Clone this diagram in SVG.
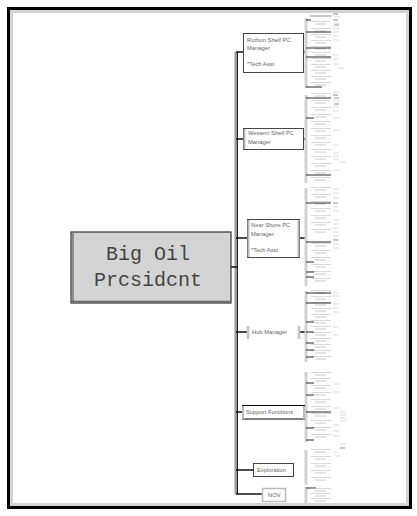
<svg xmlns="http://www.w3.org/2000/svg" xmlns:xlink="http://www.w3.org/1999/xlink" width="417" height="516" viewBox="0 0 417 516">
<style>
.lbl{font-family:"Liberation Sans",Arial,sans-serif;font-size:5.8px;fill:#666}
.pres{font-family:"Liberation Mono","Courier New",monospace;font-size:20px;fill:#444;text-anchor:middle}
.con{stroke:#000;stroke-width:1.4;fill:none}
.tk{stroke:#111;stroke-width:0.9}
.bar{stroke:#d2d2d2;stroke-width:3}
.mk{stroke:#ccc;stroke-width:0.7}
.mkd{stroke:#777;stroke-width:0.8}
.box{fill:#fff;stroke:#333;stroke-width:0.9}
</style>
<defs>
<g id="e"><line x1="0" y1="-2.5" x2="20" y2="-2.5" stroke="#b0b0b0" stroke-width="0.5"/><line x1="4" y1="0" x2="15" y2="0" stroke="#d2d2d2" stroke-width="1.2"/></g>
<line id="m" x1="0" y1="0" x2="6" y2="0" class="mk"/>
<line id="md" x1="0" y1="0" x2="5" y2="0" class="mkd"/>
</defs>
<rect x="0" y="0" width="417" height="516" fill="#fff"/>
<!-- frame -->
<rect x="8.5" y="8.5" width="402" height="499" fill="#fff" stroke="#000" stroke-width="3"/>
<rect x="11.5" y="11.5" width="396" height="493" fill="none" stroke="#d4d4d4" stroke-width="3"/>
<!-- connectors -->
<g id="connectors">
<line x1="236" y1="52" x2="236" y2="494" stroke="#9a9a9a" stroke-width="3"/>
<line x1="237.5" y1="52" x2="237.5" y2="494" stroke="#222" stroke-width="1"/>
<line class="con" x1="231" y1="267" x2="237" y2="267"/>
<line class="con" x1="236" y1="52" x2="244" y2="52"/>
<line class="con" x1="236" y1="139" x2="244" y2="139"/>
<line class="con" x1="236" y1="238" x2="248" y2="238"/>
<line class="con" x1="236" y1="332" x2="248" y2="332"/>
<line class="con" x1="236" y1="412" x2="243" y2="412"/>
<line class="con" x1="236" y1="470" x2="254" y2="470"/>
<line class="con" x1="236" y1="494" x2="263" y2="494"/>
<line class="con" x1="303" y1="52" x2="306" y2="52"/>
<line class="con" x1="303" y1="139" x2="306" y2="139"/>
<line class="con" x1="299" y1="238" x2="306" y2="238"/>
<line class="con" x1="300" y1="332" x2="306" y2="332"/>
<line class="con" x1="305" y1="412" x2="306" y2="412"/>
<line class="bar" x1="306" y1="18" x2="306" y2="88"/>
<line class="bar" x1="306" y1="95" x2="306" y2="183"/>
<line class="bar" x1="306" y1="188" x2="306" y2="286"/>
<line class="bar" x1="306" y1="291" x2="306" y2="362"/>
<line class="bar" x1="306" y1="372" x2="306" y2="442"/>
<line class="bar" x1="306" y1="450" x2="306" y2="485"/>
<line class="bar" x1="306" y1="487" x2="306" y2="503"/>
</g>
<!-- president -->
<g id="president">
<rect x="71" y="232" width="160" height="71" fill="#d4d4d4" stroke="#333" stroke-width="1.2"/>
<line x1="73" y1="233" x2="73" y2="302" stroke="#777" stroke-width="1.5"/>
<line x1="72" y1="301.5" x2="230" y2="301.5" stroke="#666" stroke-width="1.5"/>
<text class="pres" x="148" y="260">Big Oil</text>
<text class="pres" x="148" y="286">Prcsidcnt</text>
</g>
<g id="n-rorbon">
<rect class="box" x="243.5" y="33.5" width="60" height="39"/>
<text class="lbl" x="247" y="42">Rorbon Shelf PC</text>
<text class="lbl" x="247" y="50">Manager</text>
<text class="lbl" x="247" y="66">*Tech Asst</text>
</g>
<g id="n-western">
<rect class="box" x="243.5" y="128.5" width="60" height="21"/>
<line x1="244.5" y1="129" x2="244.5" y2="149" stroke="#bbb" stroke-width="2"/>
<text class="lbl" x="248" y="135">Western Shelf PC</text>
<text class="lbl" x="248" y="144">Manager</text>
</g>
<g id="n-near">
<rect class="box" x="247.5" y="219.5" width="52" height="38"/>
<line x1="248.5" y1="220" x2="248.5" y2="257" stroke="#bbb" stroke-width="2"/>
<line x1="298.5" y1="220" x2="298.5" y2="257" stroke="#bbb" stroke-width="2"/>
<text class="lbl" x="251" y="227">Near Shore PC</text>
<text class="lbl" x="251" y="236">Manager</text>
<text class="lbl" x="251" y="252">*Tech Asst</text>
</g>
<g id="n-hub">
<line x1="248" y1="326" x2="248" y2="339" stroke="#c4c4c4" stroke-width="2.5"/>
<line x1="299" y1="326" x2="299" y2="339" stroke="#c4c4c4" stroke-width="2.5"/>
<text class="lbl" x="252" y="334">Hub Manager</text>
</g>
<g id="n-support">
<line x1="242" y1="405.5" x2="305" y2="405.5" stroke="#000" stroke-width="1"/>
<line x1="242" y1="419" x2="305" y2="419" stroke="#000" stroke-width="1"/>
<line x1="243" y1="406" x2="243" y2="419" stroke="#bbb" stroke-width="2"/>
<line x1="304" y1="406" x2="304" y2="419" stroke="#bbb" stroke-width="2"/>
<text class="lbl" x="246" y="414">Support Functions</text>
</g>
<g id="n-exploration">
<rect class="box" x="253.5" y="463.5" width="40" height="13"/>
<text class="lbl" x="257" y="472">Exploration</text>
</g>
<g id="n-nov">
<rect x="262.5" y="488.5" width="23" height="13" fill="#fff" stroke="#bbb" stroke-width="1.5"/>
<text class="lbl" x="268" y="497">NOV</text>
</g>
<!-- sub-entries -->
<g id="sub-rorbon">
<line x1="310" y1="16" x2="332" y2="16" stroke="#666" stroke-width="0.7"/>
<use href="#e" x="311" y="24"/><use href="#e" x="311" y="31"/><use href="#e" x="311" y="37"/><use href="#e" x="311" y="43"/><use href="#e" x="311" y="49"/><use href="#e" x="311" y="55"/><use href="#e" x="311" y="61"/><use href="#e" x="311" y="67"/><use href="#e" x="311" y="73"/><use href="#e" x="311" y="79"/><use href="#e" x="311" y="85"/>
<line class="tk" x1="306" y1="20" x2="311" y2="20"/><line class="tk" x1="306" y1="32" x2="331" y2="32"/><line class="tk" x1="306" y1="48" x2="331" y2="48"/><line class="tk" x1="306" y1="57" x2="331" y2="57"/><line class="tk" x1="306" y1="87" x2="322" y2="87"/>
<use href="#m" x="333" y="11"/><use href="#md" x="333" y="14"/><use href="#m" x="334" y="17"/><use href="#md" x="333" y="20"/><use href="#m" x="333" y="23"/><use href="#md" x="334" y="25"/><use href="#m" x="333" y="28"/><use href="#m" x="333" y="32"/><use href="#m" x="333" y="36"/><use href="#m" x="333" y="40"/><use href="#m" x="333" y="55"/><use href="#m" x="333" y="59"/><use href="#m" x="333" y="64"/><use href="#m" x="338" y="68"/>
</g>
<g id="sub-western">
<use href="#e" x="311" y="96"/><use href="#e" x="311" y="103"/><use href="#e" x="311" y="110"/><use href="#e" x="311" y="117"/><use href="#e" x="311" y="124"/><use href="#e" x="311" y="131"/><use href="#e" x="311" y="138"/><use href="#e" x="311" y="145"/><use href="#e" x="311" y="152"/><use href="#e" x="311" y="159"/><use href="#e" x="311" y="166"/><use href="#e" x="311" y="173"/><use href="#e" x="311" y="180"/>
<line class="tk" x1="306" y1="98" x2="331" y2="98"/><line class="tk" x1="306" y1="118" x2="314" y2="118"/><line class="tk" x1="306" y1="175" x2="331" y2="175"/>
<use href="#m" x="333" y="92"/><use href="#md" x="333" y="95"/><use href="#md" x="334" y="98"/><use href="#m" x="333" y="101"/><use href="#md" x="334" y="104"/><use href="#m" x="333" y="107"/><use href="#m" x="333" y="111"/><use href="#m" x="333" y="118"/><use href="#m" x="333" y="130"/><use href="#m" x="333" y="145"/><use href="#m" x="333" y="153"/><use href="#m" x="333" y="156"/><use href="#m" x="333" y="159"/><use href="#m" x="340" y="162"/><use href="#m" x="333" y="170"/>
</g>
<g id="sub-near">
<use href="#e" x="311" y="190"/><use href="#e" x="311" y="197"/><use href="#e" x="311" y="204"/><use href="#e" x="311" y="211"/><use href="#e" x="311" y="218"/><use href="#e" x="311" y="225"/><use href="#e" x="311" y="232"/><use href="#e" x="311" y="246"/><use href="#e" x="311" y="253"/><use href="#e" x="311" y="260"/><use href="#e" x="311" y="267"/><use href="#e" x="311" y="274"/><use href="#e" x="311" y="281"/>
<line class="tk" x1="306" y1="203" x2="331" y2="203"/><line class="tk" x1="306" y1="242" x2="331" y2="242"/><line class="tk" x1="306" y1="262" x2="314" y2="262"/><line class="tk" x1="306" y1="272" x2="314" y2="272"/><line class="tk" x1="306" y1="277" x2="314" y2="277"/>
<use href="#m" x="333" y="189"/><use href="#m" x="333" y="193"/><use href="#m" x="333" y="198"/><use href="#md" x="333" y="203"/><use href="#m" x="333" y="207"/><use href="#m" x="333" y="211"/><use href="#m" x="333" y="220"/><use href="#m" x="333" y="224"/><use href="#m" x="333" y="228"/><use href="#m" x="333" y="232"/><use href="#m" x="333" y="236"/><use href="#md" x="333" y="240"/><use href="#m" x="333" y="244"/><use href="#m" x="333" y="248"/>
</g>
<g id="sub-hub">
<use href="#e" x="311" y="293"/><use href="#e" x="311" y="299"/><use href="#e" x="311" y="305"/><use href="#e" x="311" y="311"/><use href="#e" x="311" y="317"/><use href="#e" x="311" y="323"/><use href="#e" x="311" y="329"/><use href="#e" x="311" y="335"/><use href="#e" x="311" y="341"/><use href="#e" x="311" y="347"/><use href="#e" x="311" y="353"/><use href="#e" x="311" y="359"/>
<line class="tk" x1="306" y1="293" x2="331" y2="293"/><line class="tk" x1="306" y1="303" x2="331" y2="303"/><line class="tk" x1="306" y1="322" x2="314" y2="322"/><line class="tk" x1="306" y1="332" x2="314" y2="332"/><line class="tk" x1="306" y1="343" x2="314" y2="343"/><line class="tk" x1="306" y1="350" x2="314" y2="350"/><line class="tk" x1="306" y1="357" x2="314" y2="357"/>
<use href="#m" x="333" y="293"/><use href="#m" x="333" y="296"/><use href="#m" x="333" y="304"/><use href="#m" x="333" y="308"/><use href="#m" x="333" y="312"/><use href="#m" x="333" y="327"/><use href="#m" x="333" y="335"/>
</g>
<g id="sub-support">
<use href="#e" x="311" y="375"/><use href="#e" x="311" y="381"/><use href="#e" x="311" y="388"/><use href="#e" x="311" y="395"/><use href="#e" x="311" y="402"/><use href="#e" x="311" y="409"/><use href="#e" x="311" y="416"/><use href="#e" x="311" y="423"/><use href="#e" x="311" y="430"/><use href="#e" x="311" y="437"/>
<line class="tk" x1="306" y1="383" x2="314" y2="383"/><line class="tk" x1="306" y1="395" x2="314" y2="395"/><line class="tk" x1="306" y1="412" x2="331" y2="412"/><line class="tk" x1="306" y1="428" x2="314" y2="428"/><line class="tk" x1="306" y1="440" x2="314" y2="440"/>
<use href="#m" x="333" y="384"/><use href="#m" x="333" y="392"/><use href="#m" x="333" y="408"/><use href="#m" x="340" y="412"/><use href="#m" x="340" y="415"/><use href="#m" x="340" y="418"/><use href="#m" x="340" y="421"/><use href="#m" x="333" y="425"/><use href="#m" x="333" y="431"/><use href="#m" x="333" y="436"/><use href="#m" x="340" y="444"/><use href="#md" x="340" y="448"/><use href="#m" x="333" y="452"/><use href="#m" x="335" y="456"/>
</g>
<g id="sub-exploration">
<use href="#e" x="311" y="452"/><use href="#e" x="311" y="459"/><use href="#e" x="311" y="466"/><use href="#e" x="311" y="473"/><use href="#e" x="311" y="480"/>
</g>
<g id="sub-nov">
<line class="tk" x1="306" y1="488" x2="316" y2="488"/>
<use href="#e" x="311" y="491"/><use href="#e" x="311" y="496"/><use href="#e" x="311" y="501"/>
</g>
</svg>
